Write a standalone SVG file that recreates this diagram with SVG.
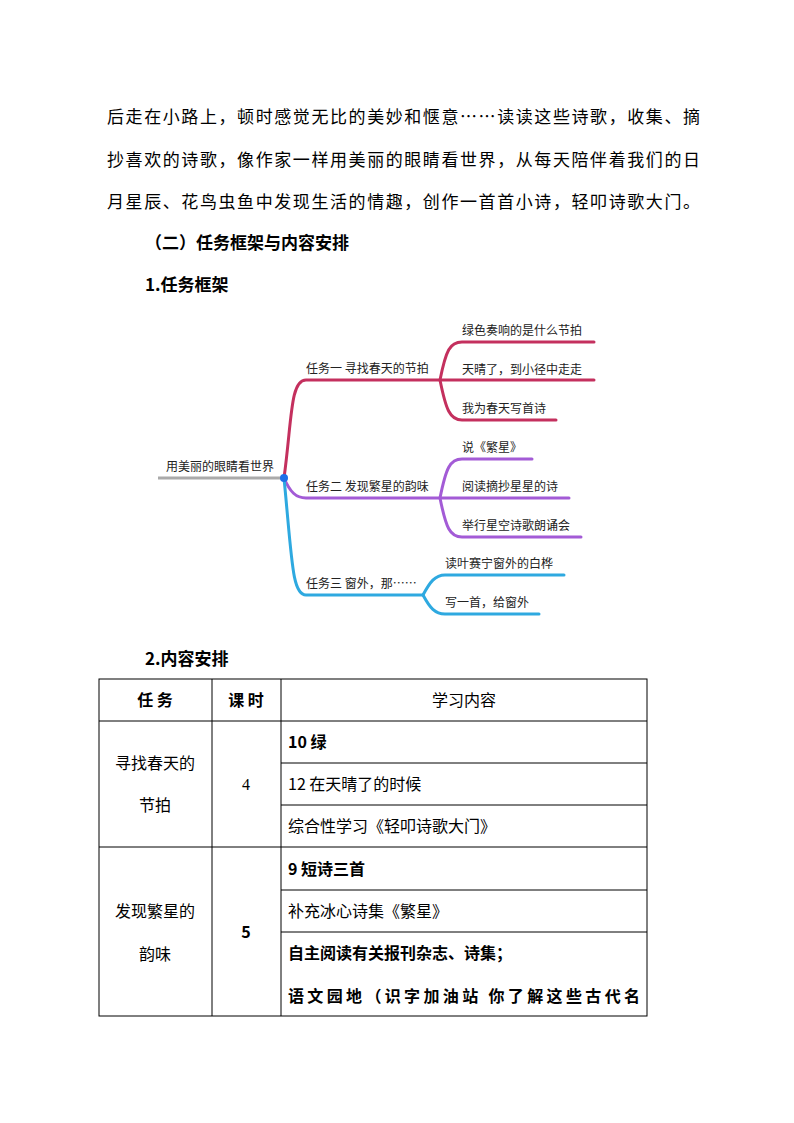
<svg xmlns="http://www.w3.org/2000/svg" width="794" height="1123" viewBox="0 0 794 1123">
<style>
text{font-family:"Noto Sans CJK SC","Liberation Sans",sans-serif;fill:#000}
.p{font-size:17px}
.h{font-size:17px;font-weight:bold}
.m{font-size:12px;fill:#222}
.t{font-size:16px}
.b{font-weight:bold}
.l{fill:none;stroke-width:3;stroke-linecap:round}
.r{stroke:#c4305e}.u{stroke:#a35bd6}.c{stroke:#2ea9e0}
.g line,.g rect{stroke:#000;stroke-width:1;fill:none}
</style>
<rect width="794" height="1123" fill="#fff"/>
<text class="p" x="107" y="123" textLength="593">后走在小路上，顿时感觉无比的美妙和惬意……读读这些诗歌，收集、摘</text>
<text class="p" x="107" y="166" textLength="593">抄喜欢的诗歌，像作家一样用美丽的眼睛看世界，从每天陪伴着我们的日</text>
<text class="p" x="107" y="208" textLength="593">月星辰、花鸟虫鱼中发现生活的情趣，创作一首首小诗，轻叩诗歌大门。</text>
<text class="h" x="145" y="249">（二）任务框架与内容安排</text>
<text class="h" x="145" y="291">1.任务框架</text>
<text class="h" x="145" y="665">2.内容安排</text>
<g id="connectors">
<line x1="158" y1="478" x2="284" y2="478" stroke="#aaa" stroke-width="3"/>
<path class="l r" d="M284 478 C292 420 290 380 306 380 L440 380"/>
<path class="l r" d="M440 380 C446 350 450 342 462 342 L594 342"/>
<path class="l r" d="M440 380 L594 380"/>
<path class="l r" d="M440 380 C446 410 450 420 462 420 L556 420"/>
<path class="l u" d="M284 478 C290 492 296 498 306 498 L440 498"/>
<path class="l u" d="M440 498 C446 468 450 459 462 459 L532 459"/>
<path class="l u" d="M440 498 L569 498"/>
<path class="l u" d="M440 498 C446 528 450 537 462 537 L581 537"/>
<path class="l c" d="M284 478 C292 560 292 595 306 595 L423 595"/>
<path class="l c" d="M423 595 C430 582 435 575 445 575 L564 575"/>
<path class="l c" d="M423 595 C430 608 435 614 445 614 L539 614"/>
<circle cx="284" cy="478" r="4" fill="#1d6fe8"/>
</g>
<g id="root"><text class="m" x="166" y="471">用美丽的眼睛看世界</text></g>
<g id="task1"><text class="m" x="306" y="373">任务一 寻找春天的节拍</text></g>
<g id="t1a"><text class="m" x="462" y="335">绿色奏响的是什么节拍</text></g>
<g id="t1b"><text class="m" x="462" y="374">天晴了，到小径中走走</text></g>
<g id="t1c"><text class="m" x="462" y="413">我为春天写首诗</text></g>
<g id="task2"><text class="m" x="306" y="491">任务二 发现繁星的韵味</text></g>
<g id="t2a"><text class="m" x="462" y="452">说《繁星》</text></g>
<g id="t2b"><text class="m" x="462" y="491">阅读摘抄星星的诗</text></g>
<g id="t2c"><text class="m" x="462" y="530">举行星空诗歌朗诵会</text></g>
<g id="task3"><text class="m" x="306" y="588">任务三  窗外，那……</text></g>
<g id="t3a"><text class="m" x="445" y="568">读叶赛宁窗外的白桦</text></g>
<g id="t3b"><text class="m" x="445" y="607">写一首，给窗外</text></g>
<g id="table" class="g">
<rect x="99" y="679" width="548" height="337"/>
<line x1="212" y1="679" x2="212" y2="1016"/>
<line x1="281" y1="679" x2="281" y2="1016"/>
<line x1="99" y1="721" x2="647" y2="721"/>
<line x1="99" y1="847" x2="647" y2="847"/>
<line x1="281" y1="763" x2="647" y2="763"/>
<line x1="281" y1="805" x2="647" y2="805"/>
<line x1="281" y1="890" x2="647" y2="890"/>
<line x1="281" y1="932" x2="647" y2="932"/>
</g>
<text class="t b" x="155" y="706" text-anchor="middle">任 务</text>
<text class="t b" x="246" y="706" text-anchor="middle">课 时</text>
<text class="t" x="464" y="706" text-anchor="middle">学习内容</text>
<text class="t" x="155" y="769" text-anchor="middle">寻找春天的</text>
<text class="t" x="155" y="811" text-anchor="middle">节拍</text>
<text class="t" x="246" y="790" text-anchor="middle" style="font-family:'Liberation Serif',serif">4</text>
<text class="t b" x="288" y="748">10 绿</text>
<text class="t" x="288" y="790">12 在天晴了的时候</text>
<text class="t" x="288" y="832">综合性学习《轻叩诗歌大门》</text>
<text class="t" x="155" y="917" text-anchor="middle">发现繁星的</text>
<text class="t" x="155" y="960" text-anchor="middle">韵味</text>
<text class="t b" x="246" y="938" text-anchor="middle">5</text>
<text class="t b" x="288" y="875">9 短诗三首</text>
<text class="t" x="288" y="917">补充冰心诗集《繁星》</text>
<text class="t b" x="288" y="959">自主阅读有关报刊杂志、诗集；</text>
<text class="t b" x="288" y="1002" textLength="352">语文园地（识字加油站 你了解这些古代名</text>
</svg>
